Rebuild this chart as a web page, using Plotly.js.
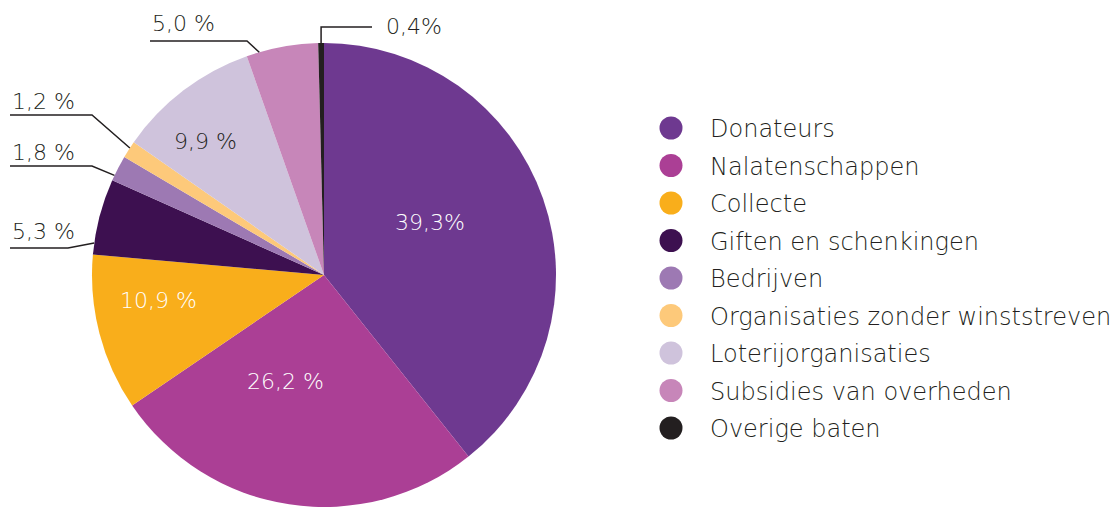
<!DOCTYPE html>
<html>
<head>
<meta charset="utf-8">
<script src="https://cdn.plot.ly/plotly-3.0.1.min.js"></script>
<style>html,body{margin:0;padding:0;background:#fff;}#chart{width:1118px;height:509px;}</style>
</head>
<body>
<div id="chart"></div>
<script>
const categories = ['Donateurs','Nalatenschappen','Collecte','Giften en schenkingen','Bedrijven','Organisaties zonder winststreven','Loterijorganisaties','Subsidies van overheden','Overige baten'];
const values = [39.3, 26.2, 10.9, 5.3, 1.8, 1.2, 9.9, 5.0, 0.4];
const valueLabels = ['39,3%','26,2 %','10,9 %','5,3 %','1,8 %','1,2 %','9,9 %','5,0 %','0,4%'];
const colors = ['#6e3990','#ab3f95','#f9ae1b','#3d1050','#9d79b3','#fdc97a','#cfc3dc','#c786b9','#231f20'];

const W = 1118, H = 509;
const CX = 324, CY = 275, R = 232;
const FONT = '"DejaVu Sans", sans-serif';
const TXT = '#231f20';
const px = x => x / W;
const py = y => 1 - y / H;

// inside label placement: position within the slice angle (frac), radius fraction (rf), text colour
const inside = {
  0: {frac: 0.45, rf: 0.51, color: '#ffffff'},
  1: {frac: 0.62, rf: 0.49, color: '#ffffff'},
  2: {frac: 0.65, rf: 0.72, color: '#ffffff'},
  6: {frac: 0.38, rf: 0.77, color: TXT}
};
// outside label layout (label anchor, elbow, position of touch point within slice)
const outside = {
  3: {frac: 0.15, elbow: [68, 248], end: [10, 248], label: [10, 231]},
  4: {frac: 0.2, elbow: [92, 166], end: [10, 166], label: [10, 152]},
  5: {frac: 0.6, elbow: [92, 115], end: [10, 115], label: [10, 101]},
  7: {frac: 0.18, elbow: [247, 41], end: [150, 41], label: [150, 23]},
  8: {frac: 0.5, vertical: true, end: [372, 27], label: [384, 26]}
};

const total = values.reduce((a, b) => a + b, 0);
const starts = [];
let acc = 0;
values.forEach(v => { starts.push(acc); acc += v; });
const angleAt = (i, f) => (starts[i] + f * values[i]) / total * 2 * Math.PI;

const shapes = [];
const annotations = [];

Object.keys(inside).forEach(k => {
  const i = +k, o = inside[k];
  const a = angleAt(i, o.frac);
  const x = CX + o.rf * R * Math.sin(a), y = CY - o.rf * R * Math.cos(a);
  annotations.push({
    xref: 'paper', yref: 'paper', x: px(x), y: py(y),
    xanchor: 'center', yanchor: 'middle', showarrow: false,
    text: valueLabels[i], font: {family: FONT, size: 22, color: o.color, weight: 300}
  });
});

Object.keys(outside).forEach(k => {
  const i = +k, o = outside[k];
  const a = angleAt(i, o.frac);
  const tx = CX + R * Math.sin(a), ty = CY - R * Math.cos(a);
  let path;
  if (o.vertical) {
    path = `M ${px(tx)} ${py(ty)} L ${px(tx)} ${py(o.end[1])} L ${px(o.end[0])} ${py(o.end[1])}`;
  } else {
    path = `M ${px(tx)} ${py(ty)} L ${px(o.elbow[0])} ${py(o.elbow[1])} L ${px(o.end[0])} ${py(o.end[1])}`;
  }
  shapes.push({type: 'path', xref: 'paper', yref: 'paper', path: path, line: {color: TXT, width: 1.5}});
  annotations.push({
    xref: 'paper', yref: 'paper', x: px(o.label[0]), y: py(o.label[1]),
    xanchor: 'left', yanchor: 'middle', showarrow: false,
    text: valueLabels[i], font: {family: FONT, size: 22, color: TXT, weight: 300}
  });
});

// legend built from categories
const LX = 671, LY0 = 128, LDY = 37.5, LR = 11.5;
categories.forEach((c, i) => {
  const y = LY0 + i * LDY;
  shapes.push({type: 'circle', xref: 'paper', yref: 'paper',
    x0: px(LX - LR), x1: px(LX + LR), y0: py(y + LR), y1: py(y - LR),
    fillcolor: colors[i], line: {width: 0}});
  annotations.push({xref: 'paper', yref: 'paper', x: px(708), y: py(y + 1),
    xanchor: 'left', yanchor: 'middle', showarrow: false, text: c,
    font: {family: FONT, size: 24, color: TXT, weight: 300}});
});

const trace = {
  type: 'pie',
  labels: categories,
  values: values,
  textinfo: 'none',
  sort: false,
  direction: 'clockwise',
  rotation: 0,
  marker: {colors: colors, line: {width: 0}},
  hoverinfo: 'label+percent',
  showlegend: false,
  domain: {x: [(CX - R) / W, (CX + R) / W], y: [(H - (CY + R)) / H, (H - (CY - R)) / H]}
};

Plotly.newPlot('chart', [trace], {
  width: W, height: H,
  margin: {l: 0, r: 0, t: 0, b: 0},
  paper_bgcolor: '#ffffff',
  showlegend: false,
  shapes: shapes,
  annotations: annotations,
  font: {family: FONT}
}, {displayModeBar: false, staticPlot: true});
</script>
</body>
</html>
